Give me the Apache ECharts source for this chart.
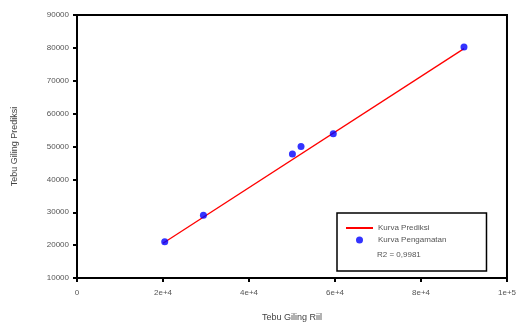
<!DOCTYPE html>
<html><head><meta charset="utf-8">
<script src="https://cdn.jsdelivr.net/npm/echarts@6/dist/echarts.min.js"></script>
<style>html,body{margin:0;padding:0;background:#fff;overflow:hidden}#c{width:519px;height:327px}</style>
</head><body><div id="c"></div>
<script>
var obsX = [20400, 29400, 50100, 52100, 59600, 90000];
var obsY = [21000, 29100, 47700, 50000, 53900, 80300];
var predX = [20000, 90000];
var predY = [20550, 79770];
var xTickLabels = ['0', '2e+4', '4e+4', '6e+4', '8e+4', '1e+5'];
var yTickLabels = ['10000','20000','30000','40000','50000','60000','70000','80000','90000'];
var seriesNames = ['Kurva Prediksi', 'Kurva Pengamatan'];
var r2Text = 'R2 = 0,9981';

var FONT = 'Liberation Sans';
var chart = echarts.init(document.getElementById('c'), null, {renderer: 'canvas', width: 519, height: 327});
chart.setOption({
  animation: false,
  textStyle: {fontFamily: FONT},
  grid: {left: 77, right: 9, top: 15, bottom: 45, show: true, borderColor: '#000', borderWidth: 2, backgroundColor: 'transparent'},
  xAxis: {
    type: 'value', min: 0, max: 100000, interval: 20000,
    name: 'Tebu Giling Riil', nameLocation: 'middle', nameGap: 35,
    nameTextStyle: {fontSize: 9, color: '#444', fontFamily: FONT},
    axisLine: {show: true, lineStyle: {color: '#000', width: 2}},
    axisTick: {show: true, length: 4, lineStyle: {color: '#000', width: 2}},
    axisLabel: {fontSize: 8, color: '#555', margin: 11, fontFamily: FONT,
      formatter: function (v) { return xTickLabels[Math.round(v / 20000)]; }},
    splitLine: {show: false}
  },
  yAxis: {
    type: 'value', min: 10000, max: 90000, interval: 10000,
    name: 'Tebu Giling Prediksi', nameLocation: 'middle', nameGap: 58, nameRotate: 90,
    nameTextStyle: {fontSize: 9, color: '#444', fontFamily: FONT},
    axisLine: {show: true, lineStyle: {color: '#000', width: 2}},
    axisTick: {show: true, length: 4, lineStyle: {color: '#000', width: 2}},
    axisLabel: {fontSize: 8, color: '#555', margin: 8, fontFamily: FONT,
      formatter: function (v) { return yTickLabels[Math.round((v - 10000) / 10000)]; }},
    splitLine: {show: false}
  },
  legend: {
    orient: 'vertical', left: 337, top: 213,
    data: [
      {name: seriesNames[0], itemStyle: {color: 'rgba(0,0,0,0)', borderWidth: 0}},
      {name: seriesNames[1]}
    ],
    itemWidth: 27, itemHeight: 7, itemGap: 4,
    padding: [11, 40, 27, 8],
    borderColor: '#000', borderWidth: 1.5,
    textStyle: {fontSize: 8, color: '#555', fontFamily: FONT}
  },
  graphic: [{
    type: 'text', left: 377, top: 251,
    style: {text: r2Text, fontSize: 8, fill: '#555', fontFamily: FONT}
  }],
  series: [
    {name: seriesNames[0], type: 'line', symbol: 'none',
     data: predX.map(function (x, i) { return [x, predY[i]]; }),
     lineStyle: {color: '#ff0000', width: 1.3}, itemStyle: {color: '#ff0000'}, z: 2},
    {name: seriesNames[1], type: 'scatter', symbol: 'circle', symbolSize: 7,
     data: obsX.map(function (x, i) { return [x, obsY[i]]; }),
     itemStyle: {color: '#0000ff'}, z: 3}
  ]
});
</script></body></html>
